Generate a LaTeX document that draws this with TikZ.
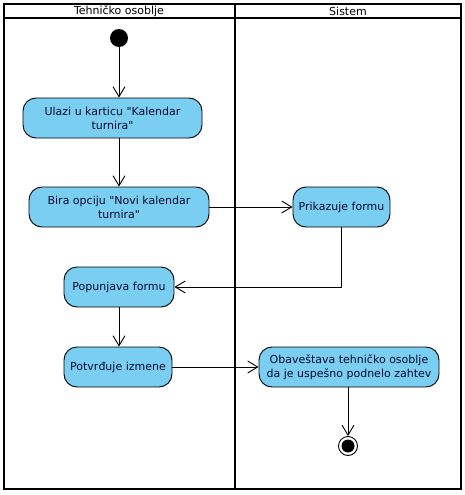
\documentclass[tikz,border=0pt]{standalone}
\usepackage{fontspec}
\setmainfont{DejaVu Sans}[Ligatures=TeXOff]
\usetikzlibrary{arrows.meta}
\definecolor{actfill}{RGB}{122,206,242}
\definecolor{acttext}{RGB}{10,10,50}
\tikzset{
  act/.style={draw=black, line width=0.9pt, fill=actfill, rounded corners=13pt,
    minimum height=40pt, inner sep=2pt, align=center, text=acttext,
    font=\fontsize{11}{14}\selectfont},
  flow/.style={draw=black, line width=0.9pt, -{Straight Barb[length=10pt,width=12pt,line width=0.9pt]}},
  lane/.style={draw=black, line width=2pt},
  lanetitle/.style={font=\fontsize{11}{13}\selectfont, inner sep=0pt}
}
\begin{document}
\begin{tikzpicture}[x=1pt,y=-1pt]
\useasboundingbox (0,0) rectangle (465,495);
% swimlanes
\draw[lane] (4,4) rectangle (461,489);
\draw[lane] (4,18) -- (461,18);
\draw[lane] (235,4) -- (235,489);
\node[lanetitle] (t1) at (119,11.5) {Tehničko osoblje};
\node[lanetitle] (t2) at (348,11.5) {Sistem};
% nodes
\node[circle, fill=black, minimum size=18pt, inner sep=0pt] (start) at (119,38) {};
\node[act, minimum width=179pt] (a1) at (112.5,118) {Ulazi u karticu "Kalendar\\turnira"};
\node[act, minimum width=180pt] (a2) at (119,207) {Bira opciju "Novi kalendar\\turnira"};
\node[act, minimum width=97pt] (a3) at (341.5,207) {Prikazuje formu};
\node[act, minimum width=110pt] (a4) at (119,287) {Popunjava formu};
\node[act, minimum width=108pt] (a5) at (118,367) {Potvrđuje izmene};
\node[act, minimum width=180pt] (a6) at (349,367) {Obaveštava tehničko osoblje\\da je uspešno podnelo zahtev};
\node[circle, draw=black, line width=0.9pt, fill=white, minimum size=19pt, inner sep=0pt] (end) at (348,446) {};
\node[circle, fill=black, minimum size=13pt, inner sep=0pt] (endin) at (end.center) {};
% flows
\draw[flow] (start) -- (start |- a1.north);
\draw[flow] (a1.south -| start) -- (a2.north -| start);
\draw[flow] (a2) -- (a3);
\draw[flow] (a3.south) |- (a4.east);
\draw[flow] (a4) -- (a5.north -| a4);
\draw[flow] (a5) -- (a6);
\draw[flow] (a6.south -| end) -- (end);
\end{tikzpicture}
\end{document}
